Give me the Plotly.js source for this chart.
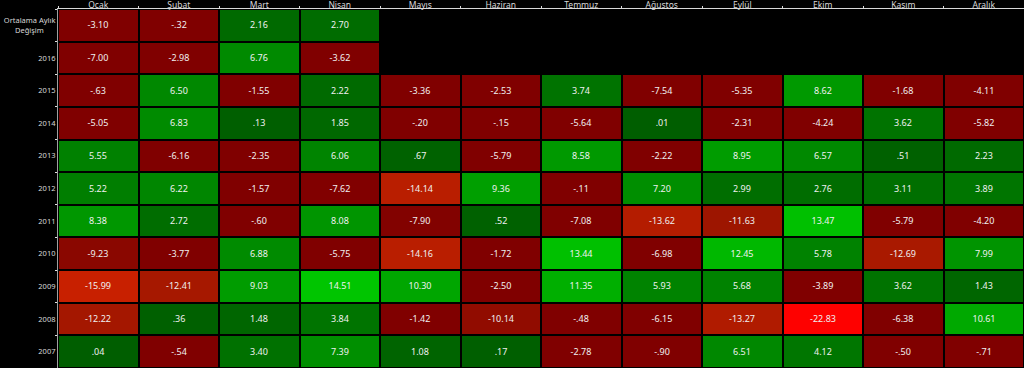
<!DOCTYPE html>
<html>
<head>
<meta charset="utf-8">
<script src="https://cdn.plot.ly/plotly-3.0.1.min.js"></script>
<style>html,body{margin:0;padding:0;background:#000;}#chart{width:1024px;height:368px;}</style>
</head>
<body>
<div id="chart"></div>
<script>
const months = ['Ocak','Şubat','Mart','Nisan','Mayıs','Haziran','Temmuz','Ağustos','Eylül','Ekim','Kasım','Aralık'];
const rowLabels = ['Ortalama Aylık<br>Değişim\u00a0\u00a0\u00a0\u00a0\u00a0\u00a0','2016','2015','2014','2013','2012','2011','2010','2009','2008','2007'];

const avg   = [-3.10,-0.32,2.16,2.70,null,null,null,null,null,null,null,null];
const y2016 = [-7.00,-2.98,6.76,-3.62,null,null,null,null,null,null,null,null];
const y2015 = [-0.63,6.50,-1.55,2.22,-3.36,-2.53,3.74,-7.54,-5.35,8.62,-1.68,-4.11];
const y2014 = [-5.05,6.83,0.13,1.85,-0.20,-0.15,-5.64,0.01,-2.31,-4.24,3.62,-5.82];
const y2013 = [5.55,-6.16,-2.35,6.06,0.67,-5.79,8.58,-2.22,8.95,6.57,0.51,2.23];
const y2012 = [5.22,6.22,-1.57,-7.62,-14.14,9.36,-0.11,7.20,2.99,2.76,3.11,3.89];
const y2011 = [8.38,2.72,-0.60,8.08,-7.90,0.52,-7.08,-13.62,-11.63,13.47,-5.79,-4.20];
const y2010 = [-9.23,-3.77,6.88,-5.75,-14.16,-1.72,13.44,-6.98,12.45,5.78,-12.69,7.99];
const y2009 = [-15.99,-12.41,9.03,14.51,10.30,-2.50,11.35,5.93,5.68,-3.89,3.62,1.43];
const y2008 = [-12.22,0.36,1.48,3.84,-1.42,-10.14,-0.48,-6.15,-13.27,-22.83,-6.38,10.61];
const y2007 = [0.04,-0.54,3.40,7.39,1.08,0.17,-2.78,-0.90,6.51,4.12,-0.50,-0.71];

const z = [avg,y2016,y2015,y2014,y2013,y2012,y2011,y2010,y2009,y2008,y2007];

function fmt(v){
  if (v === null) return '';
  let s = Math.abs(v).toFixed(2);
  if (s.startsWith('0')) s = s.slice(1);
  return (v < 0 ? '-' : '') + s;
}
const text = z.map(r => r.map(fmt));

const zmin = -23, zmax = 15;
function n(v){ return (v - zmin) / (zmax - zmin); }
const colorscale = [
  [0, '#ff0000'],
  [n(-16), '#c82000'],
  [n(-14), '#b81e00'],
  [n(-11.5), '#9c1400'],
  [n(-9), '#880600'],
  [n(-7.5), '#800000'],
  [n(-0.001), '#800000'],
  [n(0), '#005e00'],
  [n(3), '#006e00'],
  [n(6), '#008400'],
  [n(9), '#009c00'],
  [n(13.5), '#00c000'],
  [1, '#00c800']
];

const trace = {
  type: 'heatmap',
  x: months,
  y: rowLabels,
  z: z,
  text: text,
  texttemplate: '%{text}',
  textfont: {family: 'Noto Sans, sans-serif', size: 9, color: '#f0f0f0'},
  colorscale: colorscale,
  zmin: zmin, zmax: zmax,
  showscale: false,
  xgap: 2, ygap: 2,
  hoverinfo: 'skip'
};

const layout = {
  width: 1024, height: 368,
  margin: {l: 58, r: 0, t: 9, b: 0},
  paper_bgcolor: '#000', plot_bgcolor: '#000',
  xaxis: {
    type: 'category', side: 'top', showgrid: false, zeroline: false,
    showline: true, linecolor: '#d8d8d8', linewidth: 1,
    ticks: 'outside', tickson: 'boundaries', ticklen: 2, tickcolor: '#d8d8d8',
    ticklabelstandoff: -3,
    tickfont: {family: 'Noto Sans, sans-serif', size: 8.5, color: '#d8d8d8'},
    fixedrange: true
  },
  yaxis: {
    type: 'category', autorange: 'reversed', showgrid: false, zeroline: false,
    showline: true, linecolor: '#a0a0a0', linewidth: 1,
    ticks: 'outside', tickson: 'boundaries', ticklen: 2, tickcolor: '#e0e0e0',
    tickfont: {family: 'Noto Sans, sans-serif', size: 7.5, color: '#d8d8d8'},
    fixedrange: true
  }
};

Plotly.newPlot('chart', [trace], layout, {displayModeBar: false, staticPlot: true});
</script>
</body>
</html>
